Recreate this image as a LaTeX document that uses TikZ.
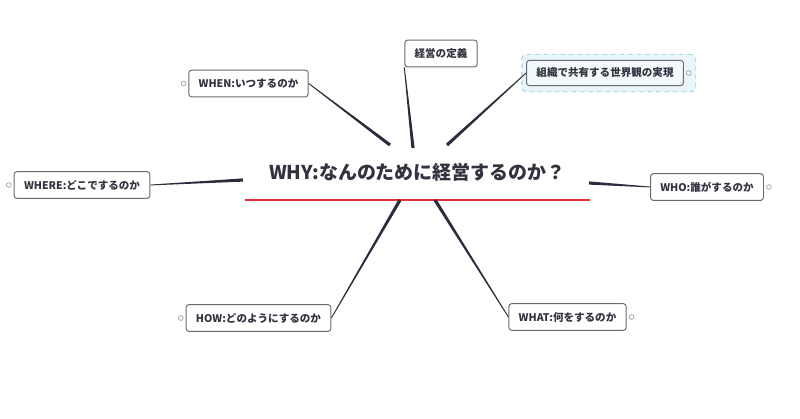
\documentclass[tikz,border=0pt]{standalone}
\usepackage{fontspec}
\setmainfont{Noto Sans CJK JP}
\usepackage{tikz}
\usetikzlibrary{positioning, calc, fit, backgrounds}
\definecolor{linknavy}{HTML}{2C2C3C}
\definecolor{textgray}{HTML}{33333F}
\definecolor{boxgray}{HTML}{6A6A74}
\definecolor{underred}{HTML}{E42E3A}
\definecolor{selcyan}{HTML}{8ED0E0}
\definecolor{selfill}{HTML}{E8F5F9}
\definecolor{dotgray}{HTML}{A0A0A8}

% tapered branch: thin at #1, thick at #2
\newcommand{\branch}[2]{%
  \fill[linknavy] ($(#1)!0.3pt!90:(#2)$) -- ($(#1)!0.3pt!-90:(#2)$)
    -- ($(#2)!1.15pt!90:(#1)$) -- ($(#2)!1.15pt!-90:(#1)$) -- cycle;}

\begin{document}
\begin{tikzpicture}[x=0.025cm, y=-0.025cm,
    topicbox/.style={draw=boxgray, line width=0.7pt, rounded corners=2pt, fill=white,
      text=textgray, font=\bfseries\fontsize{7.5}{9}\selectfont,
      inner xsep=7pt, minimum height=19pt},
    dotc/.style={circle, draw=dotgray, fill=white, line width=0.5pt,
      inner sep=0pt, minimum size=3.4pt},
    selbox/.style={draw=selcyan, dashed, fill=selfill, rounded corners=3pt,
      line width=0.6pt}]
  \useasboundingbox (0,0) rectangle (800,419);

  % central topic
  \node[text=textgray, font=\bfseries\fontsize{13.5}{16}\selectfont,
        minimum width=8.625cm, minimum height=1.375cm] (why) at (417.5,172.5)
    {WHY:なんのために経営するのか？};
  \draw[underred, line width=1.3pt] (why.south west) -- (why.south east);

  % topics
  \node[topicbox] (teigi) at (441,53.5) {経営の定義};
  \node[topicbox, fill=selfill!60, minimum height=18pt] (sekai) at (605,73) {組織で共有する世界観の実現};
  \node[dotc, right=1.5pt of sekai] (sekaiDot) {};
  \node[topicbox] (when) at (248.5,83.5) {WHEN:いつするのか};
  \node[dotc, left=1.5pt of when] (whenDot) {};
  \node[topicbox] (where) at (82,185) {WHERE:どこでするのか};
  \node[dotc, left=1.5pt of where] (whereDot) {};
  \node[topicbox] (who) at (707,187) {WHO:誰がするのか};
  \node[dotc, right=1.5pt of who] (whoDot) {};
  \node[topicbox] (how) at (258.5,318) {HOW:どのようにするのか};
  \node[dotc, left=1.5pt of how] (howDot) {};
  \node[topicbox] (what) at (567.5,317) {WHAT:何をするのか};
  \node[dotc, right=1.5pt of what] (whatDot) {};

  % selection frame
  \begin{scope}[on background layer]
    \node[selbox, fit=(sekai)(sekaiDot), inner xsep=3pt, inner ysep=4pt] (sekaiSel) {};
  \end{scope}

  % branch ends on the central topic
  \coordinate (whyTeigi) at (413,148);
  \coordinate (whySekai) at (447,145);
  \coordinate (whyWhen) at (390,145);
  \coordinate (whyWhere) at (243,180);
  \coordinate (whyWho) at (589,183);
  \coordinate (whyHow) at (400,200);
  \coordinate (whyWhat) at (435,200);

  \branch{teigi.south west}{whyTeigi}
  \branch{sekai.west}{whySekai}
  \branch{when.east}{whyWhen}
  \branch{where.east}{whyWhere}
  \branch{who.west}{whyWho}
  \branch{how.east}{whyHow}
  \branch{what.west}{whyWhat}
\end{tikzpicture}
\end{document}
